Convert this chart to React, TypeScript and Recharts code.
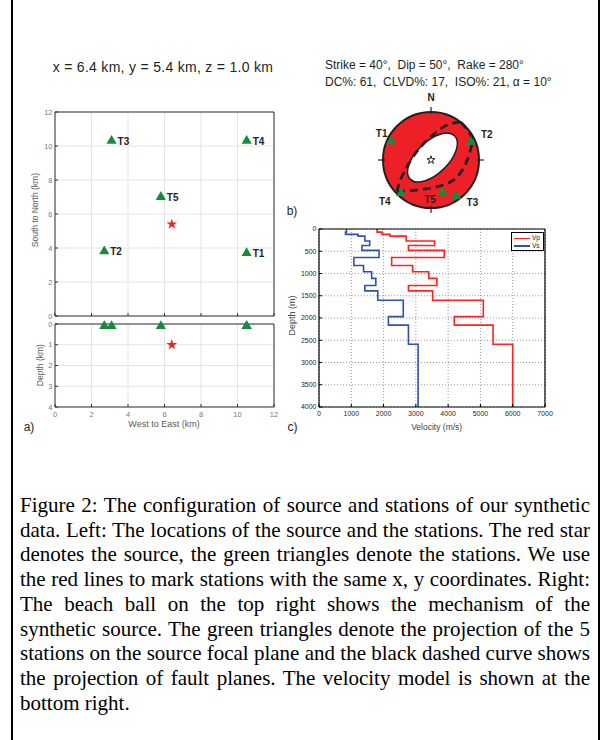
import React from "react";
import { ComposedChart, ScatterChart, LineChart, Scatter, Line, XAxis, YAxis, CartesianGrid, Symbols } from "recharts";

// a) station map (km)
const stationNames = ["T1", "T2", "T3", "T4", "T5"];
const stationEast = [10.5, 2.7, 3.1, 10.5, 5.8];
const stationNorth = [3.7, 3.8, 10.3, 10.3, 7.0];
const stationDepth = [0.1, 0.1, 0.1, 0.1, 0.1];
const sourceEast = [6.4];
const sourceNorth = [5.4];
const sourceDepth = [1.0];
const kmTicks = [0, 2, 4, 6, 8, 10, 12];
const depthKmTicks = [0, 1, 2, 3, 4];

// b) beach ball, unit focal sphere
const ballStationX = [-0.83, 0.83, 0.52, -0.62, 0.24];
const ballStationY = [0.39, 0.38, -0.75, -0.69, -0.68];
const planeAX = [-0.71, -0.65, -0.55, -0.4, -0.19, 0.06, 0.34, 0.62];
const planeAY = [-0.66, -0.444, -0.236, 0.028, 0.3, 0.54, 0.73, 0.79];
const planeBX = [-0.71, -0.257, 0.16, 0.48, 0.69, 0.81, 0.84, 0.62];
const planeBY = [-0.66, -0.62, -0.55, -0.41, -0.146, 0.167, 0.479, 0.79];
const ellipseCenterX = [0.03];
const ellipseCenterY = [0.05];

// c) velocity model
const layerTopDepth = [0, 70, 120, 160, 270, 370, 480, 640, 820, 960, 1110, 1270, 1390, 1600, 1970, 2160, 2590];
const modelBottom = 4000;
const vpLayers = [1800, 1950, 2200, 2700, 3580, 2770, 3880, 2250, 2900, 3400, 3650, 2770, 3520, 5090, 4190, 5390, 6000];
const vsLayers = [850, 820, 1210, 1420, 1570, 1330, 1860, 1080, 1380, 1630, 1760, 1420, 1820, 2610, 2150, 2770, 3070];
const velocityTicks = [0, 1000, 2000, 3000, 4000, 5000, 6000, 7000];
const depthTicks = [0, 500, 1000, 1500, 2000, 2500, 3000, 3500, 4000];

const SANS = "'Liberation Sans', Arial, sans-serif";
const GREEN = "#178a3e";
const RED = "#ee2027";
const INK = "#231f20";
const FRAME = "#333";
const BALL_R = 48;
const BALL_SPAN = 1.5625;

const ballLabelOffset: Record<string, [number, number]> = {
  T1: [-9.5, -8],
  T2: [16, -7],
  T3: [16.5, 6.5],
  T4: [-16.5, 8.5],
  T5: [-12.5, 6.5],
};

function MapTriangle(props: any) {
  const { cx, cy } = props;
  const name = props.payload?.name;
  return (
    <g>
      <Symbols cx={cx} cy={cy} type="triangle" size={45} fill={GREEN} />
      {name && (
        <text x={cx + 6} y={cy + 3.6} fontSize={10} fontWeight="bold" fontFamily={SANS} fill={INK}>
          {name}
        </text>
      )}
    </g>
  );
}

function BallTriangle(props: any) {
  const { cx, cy } = props;
  const name = props.payload?.name;
  const [dx, dy] = ballLabelOffset[name] || [0, 0];
  return (
    <g>
      <Symbols cx={cx} cy={cy} type="triangle" size={45} fill={GREEN} />
      <text x={cx + dx} y={cy + dy + 3.6} textAnchor="middle" fontSize={10} fontWeight="bold" fontFamily={SANS} fill={INK}>
        {name}
      </text>
    </g>
  );
}

function RedStar(props: any) {
  return <Symbols cx={props.cx} cy={props.cy} type="star" size={36} fill="#f02424" />;
}

function CenterStar(props: any) {
  return <Symbols cx={props.cx} cy={props.cy} type="star" size={20} fill="#fff" stroke={INK} strokeWidth={1} />;
}

function Disk(props: any) {
  const { cx, cy } = props;
  const r = BALL_R;
  return (
    <g>
      <circle cx={cx} cy={cy} r={r} fill={RED} stroke={INK} strokeWidth={2} />
      <line x1={cx} y1={cy - r + 2} x2={cx} y2={cy - r - 5} stroke={INK} strokeWidth={1.2} />
      <line x1={cx} y1={cy + r - 2} x2={cx} y2={cy + r + 5} stroke={INK} strokeWidth={1.2} />
      <line x1={cx - r + 2} y1={cy} x2={cx - r - 5} y2={cy} stroke={INK} strokeWidth={1.2} />
      <line x1={cx + r - 2} y1={cy} x2={cx + r + 5} y2={cy} stroke={INK} strokeWidth={1.2} />
    </g>
  );
}

function WhiteEllipse(props: any) {
  const { cx, cy } = props;
  return (
    <ellipse cx={cx} cy={cy} rx={31} ry={16} transform={`rotate(-44 ${cx} ${cy})`} fill="#fff" stroke={INK} strokeWidth={1.5} />
  );
}

const mapTick = { fontSize: 7.5, fill: "#777", fontFamily: SANS };
const noTick = () => <g />;

function StationMap() {
  const stations = stationNames.map((name, i) => ({ x: stationEast[i], y: stationNorth[i], name }));
  const source = sourceEast.map((x, i) => ({ x, y: sourceNorth[i] }));
  return (
    <div style={{ position: "absolute", left: 25, top: 100 }}>
      <ScatterChart width={260} height={221} margin={{ top: 11, right: 10, bottom: 0, left: 0 }}>
        <CartesianGrid stroke="#e4e4e4" />
        <XAxis type="number" dataKey="x" domain={[0, 12]} ticks={kmTicks} interval={0} tick={noTick} height={5} tickSize={-3} axisLine={{ stroke: FRAME }} tickLine={{ stroke: FRAME }} />
        <XAxis xAxisId="t" orientation="top" type="number" domain={[0, 12]} ticks={kmTicks} interval={0} tick={noTick} height={1} tickSize={-3} axisLine={{ stroke: FRAME }} tickLine={{ stroke: FRAME }} />
        <YAxis type="number" dataKey="y" domain={[0, 12]} ticks={kmTicks} interval={0} width={30} tick={mapTick} tickSize={-3} tickMargin={5.5} axisLine={{ stroke: FRAME }} tickLine={{ stroke: FRAME }} />
        <YAxis yAxisId="r" orientation="right" type="number" domain={[0, 12]} ticks={kmTicks} interval={0} tick={noTick} width={1} tickSize={-3} axisLine={{ stroke: FRAME }} tickLine={{ stroke: FRAME }} />
        <Scatter data={stations} dataKey="y" shape={MapTriangle} isAnimationActive={false} />
        <Scatter data={source} dataKey="y" shape={RedStar} isAnimationActive={false} />
      </ScatterChart>
    </div>
  );
}

function DepthSection() {
  const stations = stationNames.map((name, i) => ({ x: stationEast[i], y: stationDepth[i] }));
  const source = sourceEast.map((x, i) => ({ x, y: sourceDepth[i] }));
  return (
    <div style={{ position: "absolute", left: 25, top: 312 }}>
      <ScatterChart width={260} height={109} margin={{ top: 11, right: 10, bottom: 0, left: 0 }}>
        <CartesianGrid stroke="#e4e4e4" />
        <XAxis type="number" dataKey="x" domain={[0, 12]} ticks={kmTicks} interval={0} height={14} tick={mapTick} tickSize={-3} tickMargin={7.5} axisLine={{ stroke: FRAME }} tickLine={{ stroke: FRAME }} />
        <XAxis xAxisId="t" orientation="top" type="number" domain={[0, 12]} ticks={kmTicks} interval={0} tick={noTick} height={1} tickSize={-3} axisLine={{ stroke: FRAME }} tickLine={{ stroke: FRAME }} />
        <YAxis type="number" dataKey="y" domain={[0, 4]} reversed ticks={depthKmTicks} interval={0} width={30} tick={mapTick} tickSize={-3} tickMargin={5.5} axisLine={{ stroke: FRAME }} tickLine={{ stroke: FRAME }} />
        <YAxis yAxisId="r" orientation="right" type="number" domain={[0, 4]} reversed ticks={depthKmTicks} interval={0} tick={noTick} width={1} tickSize={-3} axisLine={{ stroke: FRAME }} tickLine={{ stroke: FRAME }} />
        <Scatter data={stations} dataKey="y" shape={MapTriangle} isAnimationActive={false} />
        <Scatter data={source} dataKey="y" shape={RedStar} isAnimationActive={false} />
      </ScatterChart>
    </div>
  );
}

function BeachBall() {
  const center = [{ x: 0, y: 0 }];
  const ellipse = ellipseCenterX.map((x, i) => ({ x, y: ellipseCenterY[i] }));
  const planeA = planeAX.map((x, i) => ({ x, y: planeAY[i] }));
  const planeB = planeBX.map((x, i) => ({ x, y: planeBY[i] }));
  const stations = stationNames.map((name, i) => ({ x: ballStationX[i], y: ballStationY[i], name }));
  const box = { position: "absolute" as const, left: 356, top: 85 };
  const m = { top: 0, right: 0, bottom: 0, left: 0 };
  return (
    <>
      <div style={box}>
        <ScatterChart width={150} height={150} margin={m}>
          <XAxis type="number" dataKey="x" domain={[-BALL_SPAN, BALL_SPAN]} hide allowDataOverflow />
          <YAxis type="number" dataKey="y" domain={[-BALL_SPAN, BALL_SPAN]} hide allowDataOverflow />
          <Scatter data={center} dataKey="y" shape={Disk} isAnimationActive={false} />
          <Scatter data={ellipse} dataKey="y" shape={WhiteEllipse} isAnimationActive={false} />
        </ScatterChart>
      </div>
      <div style={box}>
        <ComposedChart width={150} height={150} margin={m}>
          <XAxis type="number" dataKey="x" domain={[-BALL_SPAN, BALL_SPAN]} hide allowDataOverflow />
          <YAxis type="number" domain={[-BALL_SPAN, BALL_SPAN]} hide allowDataOverflow />
          <Line data={planeA} dataKey="y" type="natural" stroke={INK} strokeWidth={2.8} strokeDasharray="8 5" dot={false} isAnimationActive={false} />
          <Line data={planeB} dataKey="y" type="natural" stroke={INK} strokeWidth={2.8} strokeDasharray="8 5" dot={false} isAnimationActive={false} />
        </ComposedChart>
      </div>
      <div style={box}>
        <ScatterChart width={150} height={150} margin={m}>
          <XAxis type="number" dataKey="x" domain={[-BALL_SPAN, BALL_SPAN]} hide allowDataOverflow />
          <YAxis type="number" dataKey="y" domain={[-BALL_SPAN, BALL_SPAN]} hide allowDataOverflow />
          <Scatter data={center} dataKey="y" shape={CenterStar} isAnimationActive={false} />
          <Scatter data={stations} dataKey="y" shape={BallTriangle} isAnimationActive={false} />
        </ScatterChart>
      </div>
    </>
  );
}

function stepProfile(values: number[]) {
  return layerTopDepth.flatMap((top, i) => {
    const bottom = i + 1 < layerTopDepth.length ? layerTopDepth[i + 1] : modelBottom;
    return [
      { v: values[i], d: top },
      { v: values[i], d: bottom },
    ];
  });
}

const velTick = { fontSize: 7, fill: "#262626", fontFamily: SANS };

function VelocityModel() {
  const vp = stepProfile(vpLayers);
  const vs = stepProfile(vsLayers);
  return (
    <div style={{ position: "absolute", left: 279, top: 218 }}>
      <LineChart width={275} height={201} margin={{ top: 10, right: 8, bottom: 0, left: 0 }}>
        <CartesianGrid stroke="#9a9a9a" strokeDasharray="1 2" />
        <XAxis type="number" dataKey="v" domain={[0, 7000]} ticks={velocityTicks} interval={0} height={12} tick={velTick} tickSize={-3} tickMargin={7} allowDataOverflow axisLine={{ stroke: "#000", strokeWidth: 1.2 }} tickLine={{ stroke: "#000" }} />
        <XAxis xAxisId="t" orientation="top" type="number" domain={[0, 7000]} ticks={velocityTicks} interval={0} height={1} tick={noTick} tickSize={-3} axisLine={{ stroke: "#000", strokeWidth: 1.2 }} tickLine={{ stroke: "#000" }} />
        <YAxis type="number" domain={[0, 4000]} reversed ticks={depthTicks} interval={0} width={40} tick={velTick} tickSize={-3} tickMargin={5.5} allowDataOverflow axisLine={{ stroke: "#000", strokeWidth: 1.2 }} tickLine={{ stroke: "#000" }} />
        <YAxis yAxisId="r" orientation="right" type="number" domain={[0, 4000]} reversed ticks={depthTicks} interval={0} width={1} tick={noTick} tickSize={-3} axisLine={{ stroke: "#000", strokeWidth: 1.2 }} tickLine={{ stroke: "#000" }} />
        <Line data={vp} dataKey="d" type="linear" stroke="#ff2222" strokeWidth={1.6} dot={false} isAnimationActive={false} />
        <Line data={vs} dataKey="d" type="linear" stroke="#2f50ad" strokeWidth={1.6} dot={false} isAnimationActive={false} />
      </LineChart>
    </div>
  );
}

function Txt({ x, y, size, children, anchor = "center", rotate = false, weight = "normal", color = INK, font = SANS }: any) {
  const w = 400;
  const left = anchor === "center" ? x - w / 2 : x;
  return (
    <div
      style={{
        position: "absolute",
        left,
        top: y - size * 0.6,
        width: w,
        height: size * 1.2,
        lineHeight: `${size * 1.2}px`,
        fontSize: size,
        fontFamily: font,
        fontWeight: weight,
        color,
        textAlign: anchor === "center" ? "center" : "left",
        whiteSpace: "pre",
        transform: rotate ? "rotate(-90deg)" : undefined,
        transformOrigin: `${x - left}px ${size * 0.6}px`,
      }}
    >
      {children}
    </div>
  );
}

const captionLines = [
  "Figure 2: The configuration of source and stations of our synthetic",
  "data. Left: The locations of the source and the stations. The red star",
  "denotes the source, the green triangles denote the stations. We use",
  "the red lines to mark stations with the same x, y coordinates. Right:",
  "The beach ball on the top right shows the mechanism of the",
  "synthetic source. The green triangles denote the projection of the 5",
  "stations on the source focal plane and the black dashed curve shows",
  "the projection of fault planes. The velocity model is shown at the",
  "bottom right.",
];

function VelocityLegend() {
  return (
    <div style={{ position: "absolute", left: 511, top: 232, width: 33, height: 19, border: "1.5px solid #000", background: "#fff", boxSizing: "border-box", fontFamily: SANS, fontSize: 6.5, color: "#222" }}>
      <div style={{ position: "absolute", left: 2, top: 4.5, width: 16, height: 1.5, background: "#ff2222" }} />
      <div style={{ position: "absolute", left: 20, top: 1, lineHeight: "8px" }}>Vp</div>
      <div style={{ position: "absolute", left: 2, top: 12, width: 16, height: 1.5, background: "#2f50ad" }} />
      <div style={{ position: "absolute", left: 20, top: 8.5, lineHeight: "8px" }}>Vs</div>
    </div>
  );
}

export default function App() {
  return (
    <div style={{ position: "absolute", left: 0, top: 0, width: 602, height: 740, background: "#fff", overflow: "hidden" }}>
      <div style={{ position: "absolute", left: 11, top: 0, width: 2.2, height: 740, background: "#000" }} />
      <div style={{ position: "absolute", left: 597.8, top: 0, width: 2.2, height: 740, background: "#000" }} />

      <Txt x={163} y={67.5} size={14}>
        <span style={{ letterSpacing: 0.3 }}>x = 6.4 km, y = 5.4 km, z = 1.0 km</span>
      </Txt>
      <Txt x={325} y={65} size={12} anchor="left">{"Strike = 40°,  Dip = 50°,  Rake = 280°"}</Txt>
      <Txt x={325} y={81.7} size={12} anchor="left">{"DC%: 61,  CLVD%: 17,  ISO%: 21, α = 10°"}</Txt>
      <Txt x={431} y={98} size={10} weight="bold">N</Txt>

      <StationMap />
      <DepthSection />
      <BeachBall />
      <VelocityModel />
      <VelocityLegend />

      <Txt x={35} y={210} size={8.5} rotate color="#5a5a5a">South to North (km)</Txt>
      <Txt x={40} y={365} size={8.5} rotate color="#5a5a5a">Depth (km)</Txt>
      <Txt x={164} y={424} size={9} color="#5a5a5a">West to East (km)</Txt>
      <Txt x={291.7} y={315} size={9} rotate color="#444">Depth (m)</Txt>
      <Txt x={436.7} y={426.7} size={8.5} color="#444">Velocity (m/s)</Txt>

      <Txt x={29} y={427.5} size={12}>a)</Txt>
      <Txt x={292} y={211} size={12}>b)</Txt>
      <Txt x={292.5} y={427.5} size={12}>c)</Txt>

      <div style={{ position: "absolute", left: 20, top: 493, width: 570, fontFamily: "'Liberation Serif', 'Times New Roman', serif", fontSize: 21, lineHeight: "24.7px", color: "#000" }}>
        {captionLines.map((line, i) => (
          <div key={i} style={{ textAlign: "justify", textAlignLast: i === captionLines.length - 1 ? "left" : "justify", whiteSpace: "nowrap" }}>
            {line}
          </div>
        ))}
      </div>
    </div>
  );
}
